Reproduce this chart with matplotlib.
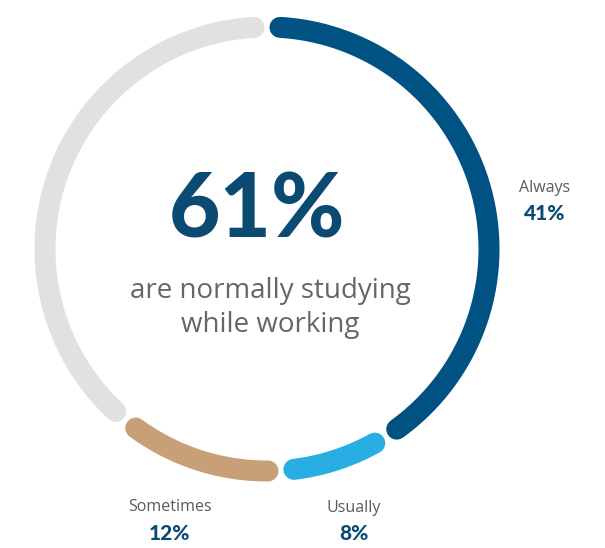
import numpy as np
import matplotlib
matplotlib.use("Agg")
import matplotlib.pyplot as plt

# Survey shares (percent), drawn clockwise from 12 o'clock
categories = ["Always", "Usually", "Sometimes", "Other"]
values = [41, 8, 12, 39]
seg_colors = ["#005282", "#29AEE4", "#C8A078", "#E1E1E1"]
labelled = ["Always", "Usually", "Sometimes"]
headline = "61%"
subtitle = "are normally studying\nwhile working"

W, H = 605, 548
fig = plt.figure(figsize=(W / 100, H / 100), dpi=100)
ax = fig.add_axes([0, 0, 1, 1])
ax.set_xlim(0, W)
ax.set_ylim(H, 0)
ax.set_aspect("equal")
ax.axis("off")

cx, cy, r = 267, 249, 222
stroke_px = 21
lw = stroke_px * 72 / 100
shrink = (stroke_px / 2 + 2.5) / r  # radians trimmed at each end (cap + gap)

total = sum(values)
start = 0.0
for name, v, col in zip(categories, values, seg_colors):
    a0 = start / total * 2 * np.pi + shrink
    a1 = (start + v) / total * 2 * np.pi - shrink
    t = np.linspace(a0, a1, 300)
    x = cx + r * np.sin(t)
    y = cy - r * np.cos(t)
    ax.plot(x, y, color=col, lw=lw, solid_capstyle="round")
    start += v

label_pos = {"Always": (545, 188), "Usually": (354, 508), "Sometimes": (170, 507)}
for name, v in zip(categories, values):
    if name not in labelled:
        continue
    lx, ly = label_pos[name]
    ax.text(lx, ly, name, ha="center", va="center", fontsize=11.5,
            color="#5A5A5A", family="Open Sans")
    ax.text(lx, ly + 26, f"{v}%", ha="center", va="center", fontsize=15,
            color="#0B4A73", family="Lato", fontweight="black")

ax.text(257, 212, headline, ha="center", va="center", fontsize=64,
        color="#0B4A73", family="Lato", fontweight="black")
ax.text(270, 308, subtitle, ha="center", va="center", fontsize=20,
        color="#666666", family="Open Sans", linespacing=1.3)

fig.savefig("out.png", dpi=100)
